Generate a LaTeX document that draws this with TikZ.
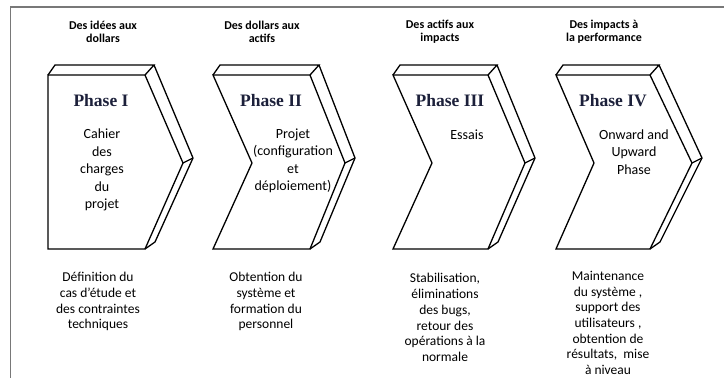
\documentclass[tikz,border=0pt]{standalone}
\usepackage{fontspec}
\setmainfont{Carlito}
\newfontfamily\phasefont{Liberation Serif}
\definecolor{phaseblue}{RGB}{28,32,58}
\definecolor{framegray}{RGB}{120,120,120}
\newcommand{\chevshape}[4]{%
  % #1 left x, #2 right x, #3 tip x, #4 notch x
  \draw[shapeline] (#1,75) -- (#2,75) -- (#3,163) -- (#2,249) -- (#1,249) -- (#4,163) -- cycle;
  \draw[shapeline] (#1,75) -- ({#1+7},65) -- ({#2+9},65) -- (#2,75);
  \draw[shapeline] ({#2+9},65) -- ({#3+10},158) -- ({#2+10},242) -- (#2,249);
  \draw[shapeline] (#3,163) -- ({#3+10},158);
}
\tikzset{
  shapeline/.style={line width=1.3pt, line join=miter},
  header/.style={font=\fontsize{12}{13}\selectfont\bfseries, align=center, inner sep=0pt},
  phaselabel/.style={font=\fontsize{17.5}{20}\selectfont\phasefont\bfseries, text=phaseblue, inner sep=0pt},
  body/.style={font=\fontsize{14}{17.5}\selectfont, align=center, inner sep=0pt},
  bottomtext/.style={font=\fontsize{13.5}{15.8}\selectfont, align=center, inner sep=0pt},
}
\begin{document}
\begin{tikzpicture}[x=1pt,y=-1pt]
\useasboundingbox (0,0) rectangle (724,378);
% frame
\draw[framegray, line width=1.5pt] (10.5,378) -- (10.5,7) -- (724,7);
% shapes
\chevshape{48}{145}{183}{48}
\chevshape{213}{310}{345}{252}
\chevshape{393}{488}{525}{432}
\chevshape{556}{650}{692}{594}
% headers
\node[header] (h1) at (103,31.5) {Des idées aux\\dollars};
\node[header] (h2) at (262,31.5) {Des dollars aux\\actifs};
\node[header] (h3) at (440,31.5) {Des actifs aux\\impacts};
\node[header] (h4) at (604,31.5) {Des impacts à\\la performance};
% phase labels
\node[phaselabel] (p1) at (101,101) {Phase I};
\node[phaselabel] (p2) at (271,101) {Phase II};
\node[phaselabel] (p3) at (450,101) {Phase III};
\node[phaselabel] (p4) at (613,101) {Phase IV};
% bodies
\node[body] (b1) at (102,170) {Cahier\\des\\charges\\du\\projet};
\node[body] (b2) at (293,161) {Projet\\(configuration\\et\\déploiement)};
\node[body] (b3) at (467,135) {Essais};
\node[body] (b4) at (634,152) {Onward and\\Upward\\Phase};
% bottom texts
\node[bottomtext] (d1) at (98,301.5) {Définition du\\cas d’étude et\\des contraintes\\techniques};
\node[bottomtext] (d2) at (266,301.5) {Obtention du\\système et\\formation du\\personnel};
\node[bottomtext] (d3) at (445,317.5) {Stabilisation,\\éliminations\\des bugs,\\retour des\\opérations à la\\normale};
\node[bottomtext, font=\fontsize{13.5}{15.6}\selectfont] (d4) at (608,323) {Maintenance\\du système ,\\support des\\utilisateurs ,\\obtention de\\résultats,~ mise\\à niveau};
\end{tikzpicture}
\end{document}
